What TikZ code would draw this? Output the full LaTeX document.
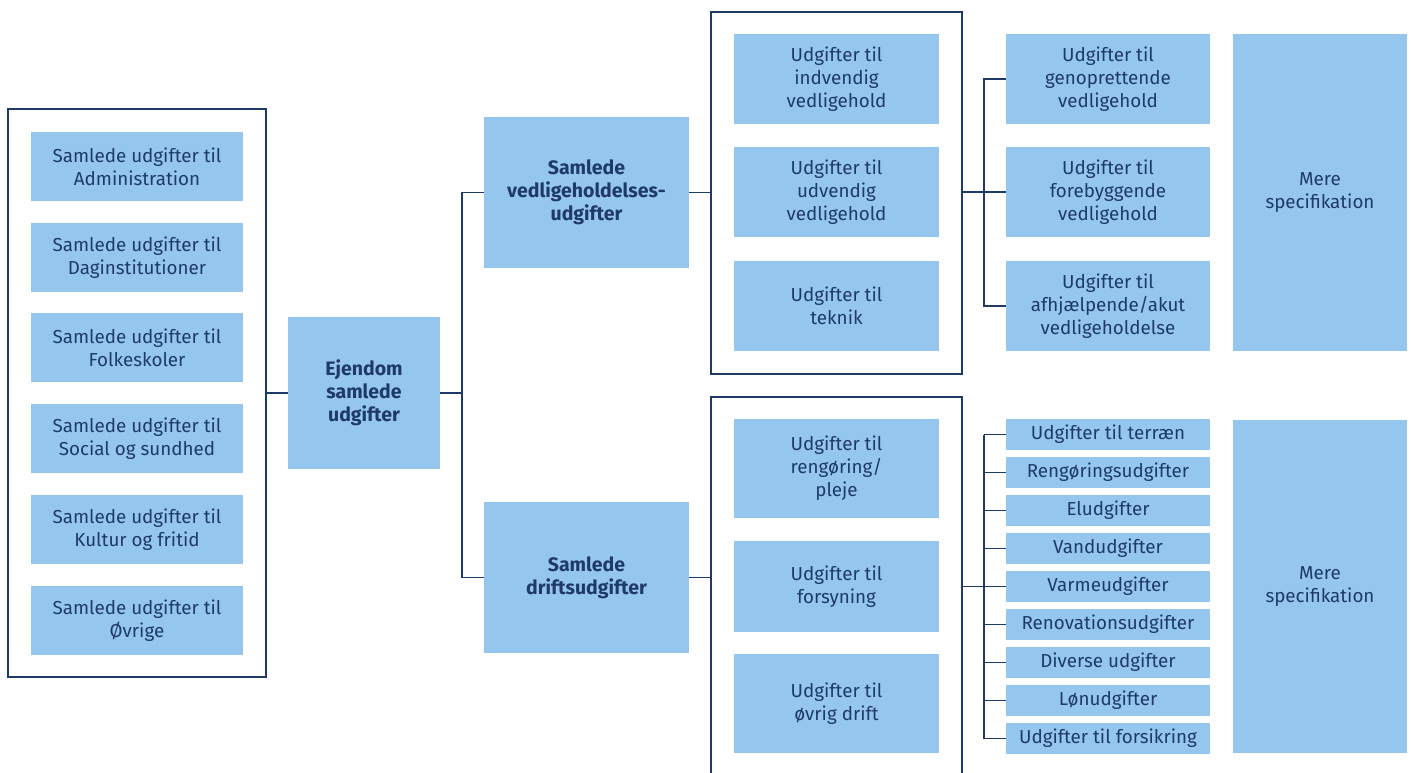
\documentclass[tikz,border=0pt]{standalone}
\usepackage{fontspec}
\setmainfont{Fira Sans}
\usetikzlibrary{positioning}
\definecolor{boxblue}{HTML}{95C7EE}
\definecolor{navy}{HTML}{1F3A68}

\begin{document}
\begin{tikzpicture}[x=1pt,y=-1pt,
    cell/.style={fill=boxblue,text=navy,align=center,inner sep=0pt,font=\fontsize{18.8}{23}\selectfont},
    headcell/.style={cell,font=\fontsize{19.5}{23}\selectfont\bfseries},
    frame/.style={draw=navy,line width=1.3pt,inner sep=0pt},
    link/.style={draw=navy,line width=1.3pt}]
    \useasboundingbox (0,0) rectangle (1411,772);

    % left column
    \node[frame,minimum width=258pt,minimum height=568pt] (leftframe) at (137,393) {};
    \foreach \y/\name/\txt in {166.5/adm/Administration,257.5/dag/Daginstitutioner,
        347.5/folk/Folkeskoler,438.5/soc/Social og sundhed,529.5/kult/Kultur og fritid,620.5/ovr/Øvrige}
        \node[cell,minimum width=212pt,minimum height=69pt] (\name) at (137,\y) {Samlede udgifter til\\\txt};

    \node[headcell,minimum width=152pt,minimum height=152pt] (ejendom) at (364,393) {Ejendom\\samlede\\udgifter};
    \node[headcell,minimum width=205pt,minimum height=151pt] (vedl) at (586.5,192.5) {Samlede\\vedligeholdelses-\\udgifter};
    \node[headcell,minimum width=205pt,minimum height=151pt] (drift) at (586.5,577.5) {Samlede\\driftsudgifter};

    % upper group
    \node[frame,minimum width=251pt,minimum height=362pt] (upframe) at (836.5,193) {};
    \node[cell,minimum width=205pt,minimum height=90pt] (indv) at (836.5,79) {Udgifter til\\indvendig\\vedligehold};
    \node[cell,minimum width=205pt,minimum height=90pt] (udv) at (836.5,192) {Udgifter til\\udvendig\\vedligehold};
    \node[cell,minimum width=205pt,minimum height=90pt] (tek) at (836.5,306) {Udgifter til\\teknik};
    \node[cell,minimum width=204pt,minimum height=90pt] (gen) at (1108,79) {Udgifter til\\genoprettende\\vedligehold};
    \node[cell,minimum width=204pt,minimum height=90pt] (fore) at (1108,192) {Udgifter til\\forebyggende\\vedligehold};
    \node[cell,minimum width=204pt,minimum height=90pt] (akut) at (1108,306) {Udgifter til\\afhjælpende/akut\\vedligeholdelse};
    \node[cell,minimum width=174pt,minimum height=317pt] (mere1) at (1320,192.5) {Mere\\specifikation};

    % lower group
    \node[frame,minimum width=251pt,minimum height=400pt] (lowframe) at (836.5,597) {};
    \node[cell,minimum width=205pt,minimum height=99pt] (reng) at (836.5,468.5) {Udgifter til\\rengøring/\\pleje};
    \node[cell,minimum width=205pt,minimum height=91pt] (fors) at (836.5,586.5) {Udgifter til\\forsyning};
    \node[cell,minimum width=205pt,minimum height=99pt] (ovdr) at (836.5,703.5) {Udgifter til\\øvrig drift};
    \foreach \txt [count=\k] in {Udgifter til terræn,Rengøringsudgifter,Eludgifter,Vandudgifter,
        Varmeudgifter,Renovationsudgifter,Diverse udgifter,Lønudgifter,Udgifter til forsikring}
        \node[cell,minimum width=204pt,minimum height=31pt] (list\k) at (1108,{434.5+38*(\k-1)}) {\txt};
    \node[cell,minimum width=174pt,minimum height=333pt] (mere2) at (1320,586.5) {Mere\\specifikation};

    % connectors
    \coordinate (split1) at (462,393);
    \coordinate (split2) at (984,192);
    \coordinate (split3) at (984,586.5);
    \draw[link] (leftframe.east) -- (ejendom.west);
    \draw[link] (ejendom.east) -- (split1);
    \draw[link] (vedl.west) -| (split1) |- (drift.west);
    \draw[link] (vedl.east) -- (upframe.west |- vedl.east);
    \draw[link] (drift.east) -- (lowframe.west |- drift.east);
    \draw[link] (upframe.east |- split2) -- (split2);
    \draw[link] (gen.west) -| (split2) |- (akut.west);
    \draw[link] (split2) -- (fore.west);
    \draw[link] (lowframe.east |- split3) -- (split3);
    \draw[link] (split3 |- list1.west) -- (split3 |- list9.west);
    \foreach \k in {1,...,9}
        \draw[link] (split3 |- list\k.west) -- (list\k.west);
\end{tikzpicture}
\end{document}
